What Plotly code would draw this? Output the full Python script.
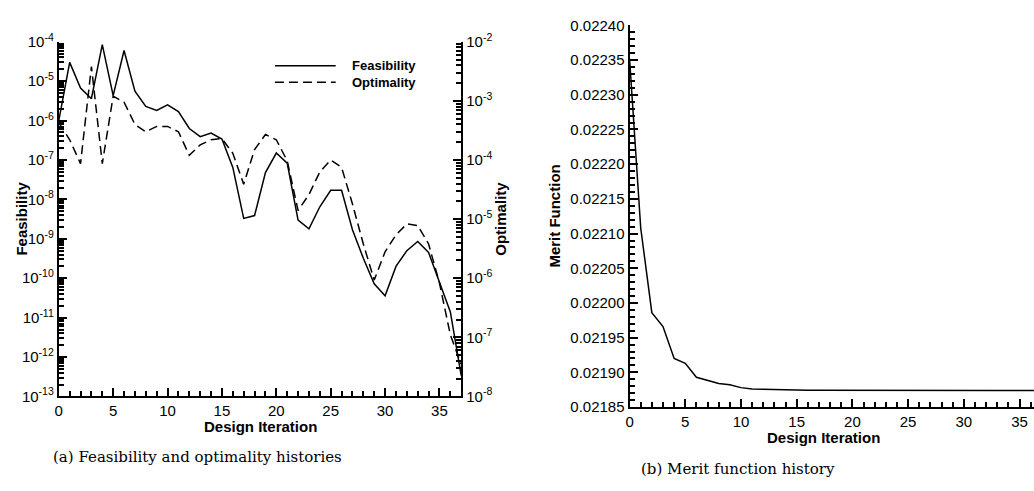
import plotly.graph_objects as go

W, H = 1034, 491

iterations = list(range(38))
feasibility = [1.0e-6, 3.0e-5, 6.7e-6, 3.6e-6, 8.5e-5, 4.3e-6, 6.0e-5, 5.6e-6, 2.3e-6, 1.8e-6,
               2.5e-6, 1.7e-6, 6.3e-7, 3.9e-7, 4.8e-7, 3.4e-7, 6.5e-8, 3.3e-9, 3.9e-9, 4.8e-8,
               1.5e-7, 8.3e-8, 3.0e-9, 1.8e-9, 6.5e-9, 1.7e-8, 1.7e-8, 1.7e-9, 3.2e-10, 7.2e-11,
               3.6e-11, 2.0e-10, 5.0e-10, 8.6e-10, 4.5e-10, 8.0e-11, 1.4e-11, 3.4e-13]
optimality = [4.3e-4, 2.2e-4, 8.7e-5, 3.8e-3, 8.7e-5, 1.2e-3, 9.5e-4, 4.0e-4, 3.0e-4, 3.7e-4,
              3.7e-4, 3.0e-4, 1.2e-4, 1.8e-4, 2.2e-4, 2.3e-4, 1.3e-4, 3.9e-5, 1.5e-4, 2.7e-4,
              2.2e-4, 9.7e-5, 1.4e-5, 2.6e-5, 6.3e-5, 1.0e-4, 7.5e-5, 1.8e-5, 3.8e-6, 9.3e-7,
              2.8e-6, 5.4e-6, 8.3e-6, 7.8e-6, 3.8e-6, 8.3e-7, 1.1e-7, 3.5e-8]
merit = [0.022352, 0.022108, 0.021986, 0.021966, 0.021920, 0.021913, 0.021893, 0.021888,
         0.021884, 0.021882, 0.021878, 0.021876, 0.0218755, 0.021875, 0.0218747, 0.0218745,
         0.0218743, 0.0218742, 0.0218741, 0.021874, 0.021874, 0.021874, 0.0218739, 0.0218739,
         0.0218739, 0.0218738, 0.0218738, 0.0218738, 0.0218738, 0.0218738, 0.0218738, 0.0218738,
         0.0218738, 0.0218738, 0.0218738, 0.0218738, 0.0218738, 0.0218738]

feas_decades = list(range(-13, -3))
opt_decades = list(range(-8, -1))

FONT = "Liberation Sans"


def px(x):
    return x / W


def py(y):
    return 1 - y / H


def log_ticks(decs):
    vals = [10.0 ** d for d in decs]
    text = ["10<sup>%d</sup>" % d for d in decs]
    minor = [m * 10.0 ** d for d in decs[:-1] for m in range(2, 10)]
    return vals, text, minor


fig = go.Figure()
fig.add_trace(go.Scatter(x=iterations, y=feasibility, mode="lines", name="Feasibility",
                         line=dict(color="black", width=1.5), xaxis="x", yaxis="y"))
fig.add_trace(go.Scatter(x=iterations, y=optimality, mode="lines", name="Optimality",
                         line=dict(color="black", width=1.5, dash="9px,5px"), xaxis="x", yaxis="y2"))
fig.add_trace(go.Scatter(x=iterations, y=merit, mode="lines", name="Merit",
                         line=dict(color="black", width=1.5), xaxis="x2", yaxis="y3"))

tickfont = dict(family=FONT, size=15, color="black")
base = dict(showline=True, linewidth=2, linecolor="black", ticks="inside", ticklen=8,
            tickwidth=2, tickcolor="black", showgrid=False, zeroline=False, tickfont=tickfont)
minor_lin = dict(ticks="inside", ticklen=5, tickwidth=1.5, tickcolor="black", showgrid=False)

fv, ft, fm = log_ticks(feas_decades)
ov, ot, om = log_ticks(opt_decades)


def minor_log_axis(rng, side, tickvals):
    return dict(type="log", range=rng, overlaying="y", side=side, anchor="x",
                showline=False, showgrid=False, zeroline=False, ticks="inside",
                ticklen=5, tickwidth=1.5, tickcolor="black", tickmode="array",
                tickvals=tickvals, showticklabels=False)


fig.update_layout(
    width=W, height=H, margin=dict(l=0, r=0, t=0, b=0),
    paper_bgcolor="white", plot_bgcolor="white", showlegend=False,
    xaxis=dict(base, domain=[px(55), px(459)], range=[0, 37], dtick=5, tick0=0,
               anchor="y", minor=dict(minor_lin, dtick=1)),
    yaxis=dict(base, type="log", domain=[py(401), py(32)], range=[-13, -4], anchor="x",
               tickmode="array", tickvals=fv, ticktext=ft),
    yaxis2=dict(base, type="log", range=[-8, -2], overlaying="y", side="right", anchor="x",
                tickmode="array", tickvals=ov, ticktext=ot),
    yaxis4=minor_log_axis([-13, -4], "left", fm),
    yaxis5=minor_log_axis([-8, -2], "right", om),
    xaxis2=dict(base, domain=[px(628), 1.0], range=[0, 36.3], dtick=5, tick0=0, anchor="y3",
                minor=dict(minor_lin, dtick=1)),
    yaxis3=dict(base, domain=[py(412), py(15)], range=[0.02185, 0.02240], anchor="x2",
                dtick=0.00005, tick0=0.02185, tickformat=".5f",
                minor=dict(minor_lin, dtick=0.00001)),
)

# invisible anchors so the minor-tick axes are drawn
fig.add_trace(go.Scatter(x=[None], y=[None], xaxis="x", yaxis="y4", showlegend=False,
                         hoverinfo="skip"))
fig.add_trace(go.Scatter(x=[None], y=[None], xaxis="x", yaxis="y5", showlegend=False,
                         hoverinfo="skip"))

annots = [
    dict(text="<b>Feasibility</b>", x=px(18), y=py(216), textangle=-90),
    dict(text="<b>Optimality</b>", x=px(499), y=py(216), textangle=-90),
    dict(text="<b>Design Iteration</b>", x=px(257), y=py(432)),
    dict(text="<b>Merit Function</b>", x=px(553), y=py(213), textangle=-90),
    dict(text="<b>Design Iteration</b>", x=px(823), y=py(444)),
    dict(text="<b>Feasibility</b>", x=px(347), y=py(57), xanchor="left", size=13),
    dict(text="<b>Optimality</b>", x=px(347), y=py(74), xanchor="left", size=13),
]
for a in annots:
    size = a.pop("size", 15)
    xanchor = a.pop("xanchor", "center")
    fig.add_annotation(xref="paper", yref="paper", showarrow=False, xanchor=xanchor,
                       yanchor="middle", font=dict(family=FONT, size=size, color="black"), **a)

captions = [
    dict(text="(a) Feasibility and optimality histories", x=px(194), y=py(464)),
    dict(text="(b) Merit function history", x=px(737), y=py(476)),
]
for c in captions:
    fig.add_annotation(xref="paper", yref="paper", showarrow=False, xanchor="center",
                       yanchor="middle", font=dict(family="DejaVu Serif", size=15, color="black"), **c)

# legend samples
fig.add_shape(type="line", xref="paper", yref="paper", x0=px(272), x1=px(333), y0=py(57), y1=py(57),
              line=dict(color="black", width=1.5))
fig.add_shape(type="line", xref="paper", yref="paper", x0=px(272), x1=px(333), y0=py(74), y1=py(74),
              line=dict(color="black", width=1.5, dash="9px,5px"))

fig.write_html("out.html")
